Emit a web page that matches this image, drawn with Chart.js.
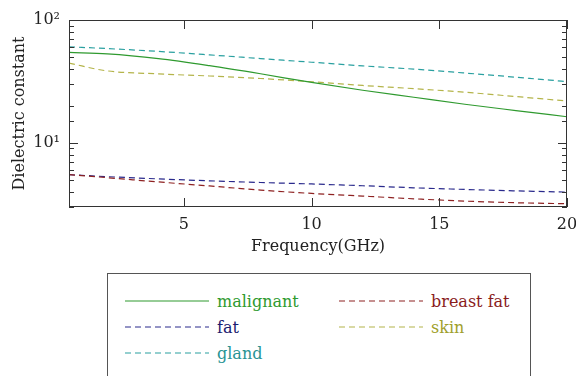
<!DOCTYPE html>
<html>
<head>
<meta charset="utf-8">
<script src="https://cdn.jsdelivr.net/npm/chart.js@4/dist/chart.umd.min.js"></script>
<style>
  body { margin: 0; background: #fff; width: 576px; height: 376px; overflow: hidden; position: relative; }
  #wrap { position: absolute; left: 0; top: 0; width: 576px; height: 262px; }
  #legend { position: absolute; left: 107px; top: 273px; width: 424px; height: 120px; border: 1px solid #555; box-sizing: border-box; font-family: 'DejaVu Serif', serif; font-size: 16px; }
  .item { position: absolute; display: flex; align-items: center; height: 20px; }
  .item span { margin-left: 8px; white-space: nowrap; }
</style>
</head>
<body>
<div id="wrap"><canvas id="chart" width="576" height="262"></canvas></div>
<div id="legend"></div>
<script>
// frequency in GHz
const freq = [0.5, 2, 4, 6, 8, 10, 12, 14, 16, 18, 20];

const malignant = [54.5, 53, 48.5, 42.5, 36.5, 31, 26.8, 23.5, 20.6, 18.3, 16.3];
const breastFat = [5.5, 5.2, 4.8, 4.45, 4.12, 3.87, 3.68, 3.5, 3.35, 3.25, 3.19];
const fat = [5.5, 5.3, 5.08, 4.9, 4.75, 4.62, 4.47, 4.3, 4.17, 4.06, 3.97];
const skin = [44.5, 38.5, 36.4, 35, 33.4, 31.4, 29.3, 27.6, 25.8, 23.8, 21.9];
const gland = [60.5, 58.5, 55.5, 52, 48.5, 45.3, 42.3, 39.8, 37, 34.2, 31.5];

const xTicks = [5, 10, 15, 20];
const yLabels = { 10: '10\u00b9', 100: '10\u00b2' };

const series = [
  { label: 'malignant', data: malignant, color: '#2f9a2f', text: '#2f9a2f', dash: [] },
  { label: 'breast fat', data: breastFat, color: '#8e2222', text: '#8a1c1c', dash: [6, 4] },
  { label: 'fat', data: fat, color: '#2a2a8c', text: '#1c1c70', dash: [6, 4] },
  { label: 'skin', data: skin, color: '#b4b44a', text: '#a0a02a', dash: [6, 4] },
  { label: 'gland', data: gland, color: '#2aa0a0', text: '#2a9494', dash: [6, 4] }
];

Chart.defaults.font.family = "'DejaVu Serif', serif";
Chart.defaults.font.size = 16;
Chart.defaults.color = '#222';

// box round the plot plus inward tick marks on all four sides
const frameTicks = {
  id: 'frameTicks',
  afterDatasetsDraw(chart) {
    const { ctx, chartArea: a, scales: { x, y } } = chart;
    ctx.save();
    ctx.strokeStyle = '#333';
    ctx.lineWidth = 1;
    ctx.strokeRect(a.left + 0.5, a.top + 0.5, a.width - 1, a.height - 1);
    ctx.beginPath();
    y.ticks.forEach(t => {
      const py = Math.round(y.getPixelForValue(t.value)) + 0.5;
      const len = Number.isInteger(Math.log10(t.value)) ? 9 : 5;
      ctx.moveTo(a.left, py); ctx.lineTo(a.left + len, py);
      ctx.moveTo(a.right, py); ctx.lineTo(a.right - len, py);
    });
    x.ticks.forEach(t => {
      const px = Math.round(x.getPixelForValue(t.value)) + 0.5;
      ctx.moveTo(px, a.bottom); ctx.lineTo(px, a.bottom - 9);
      ctx.moveTo(px, a.top); ctx.lineTo(px, a.top + 9);
    });
    ctx.stroke();
    ctx.restore();
  }
};

new Chart(document.getElementById('chart'), {
  type: 'line',
  data: {
    datasets: series.map(s => ({
      label: s.label,
      data: freq.map((f, i) => ({ x: f, y: s.data[i] })),
      borderColor: s.color,
      borderWidth: 1.2,
      borderDash: s.dash,
      pointRadius: 0,
      cubicInterpolationMode: 'monotone',
      fill: false
    }))
  },
  options: {
    responsive: false,
    animation: false,
    layout: { padding: { top: 20, right: 0, left: 0, bottom: 0 } },
    plugins: {
      legend: { display: false },
      tooltip: { enabled: false }
    },
    scales: {
      x: {
        type: 'linear',
        min: 0.5,
        max: 20,
        afterBuildTicks: s => { s.ticks = xTicks.map(v => ({ value: v })); },
        afterFit: s => { s.height = 55; s.paddingRight = 9; },
        grid: { display: false, drawTicks: false },
        border: { display: false },
        ticks: { padding: 8, maxRotation: 0, callback: v => String(v) },
        title: { display: true, text: 'Frequency(GHz)', padding: { top: 0, bottom: 6 } }
      },
      y: {
        type: 'logarithmic',
        min: 3,
        max: 100,
        afterFit: s => { s.width = 69; },
        grid: { display: false, drawTicks: false },
        border: { display: false },
        ticks: { padding: 9, autoSkip: false, callback: v => yLabels[v] || '' },
        title: { display: true, text: 'Dielectric constant', padding: { top: 10, bottom: 0 } }
      }
    }
  },
  plugins: [frameTicks]
});

// legend box below the plot, two columns
const legend = document.getElementById('legend');
series.forEach((s, i) => {
  const col = i % 2;
  const row = Math.floor(i / 2);
  const item = document.createElement('div');
  item.className = 'item';
  item.style.left = (col ? 231 : 17) + 'px';
  item.style.top = (17 + row * 26) + 'px';
  item.innerHTML = `
    <svg width="84" height="4"><line x1="0" y1="2" x2="84" y2="2" stroke="${s.color}" stroke-width="1.2"
      stroke-dasharray="${s.dash.join(' ')}"/></svg>
    <span style="color:${s.text}">${s.label}</span>`;
  legend.appendChild(item);
});
</script>
</body>
</html>
